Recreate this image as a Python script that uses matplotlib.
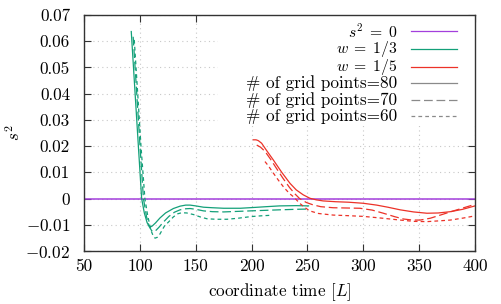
import matplotlib
matplotlib.use("Agg")
import matplotlib.pyplot as plt
from matplotlib.lines import Line2D
from matplotlib.patches import Rectangle
from matplotlib.ticker import FixedLocator, FixedFormatter

plt.rcParams['font.family'] = 'serif'
plt.rcParams['font.serif'] = ['cmr10']
plt.rcParams['mathtext.fontset'] = 'cm'
plt.rcParams['axes.unicode_minus'] = False
plt.rcParams['font.size'] = 12.3

# ---- data ----
# w = 1/3 (green)
g80_t = [92.3, 95, 98, 101.6, 104, 106.5, 108, 109.5, 111, 114, 118, 123, 130, 136, 141, 145, 150, 157, 165, 175, 190, 202, 213, 225, 240, 251]
g80_y = [0.0637, 0.0452, 0.0246, 0.0, -0.0055, -0.0092, -0.0104, -0.0108, -0.0105, -0.0093, -0.0074, -0.0055, -0.0038, -0.0029, -0.0025, -0.0025, -0.0028, -0.0033, -0.0035, -0.0037, -0.0037, -0.0034, -0.0031, -0.0028, -0.0027, -0.0028]
g70_t = [94, 97, 100, 103.2, 106, 108.5, 110.5, 112, 114, 117, 121, 126, 131, 136, 141, 145, 150, 157, 165, 175, 187, 199, 212, 225, 240, 251]
g70_y = [0.0617, 0.0415, 0.0210, 0.0, -0.0070, -0.0108, -0.0122, -0.0126, -0.0123, -0.0110, -0.0090, -0.0068, -0.0052, -0.0043, -0.0039, -0.0038, -0.0041, -0.0047, -0.0050, -0.0051, -0.0049, -0.0047, -0.0045, -0.0043, -0.0041, -0.0040]
g60_t = [95, 98, 101, 104.5, 107, 110, 112, 113.6, 115.5, 118, 122, 126, 130, 134, 137.5, 142, 148, 154, 160, 168, 178, 188, 199, 208, 216.5]
g60_y = [0.0605, 0.0405, 0.0200, 0.0, -0.0065, -0.0122, -0.0143, -0.0151, -0.0148, -0.0135, -0.0105, -0.0088, -0.0070, -0.0058, -0.0054, -0.0055, -0.0061, -0.0070, -0.0077, -0.0079, -0.0079, -0.0075, -0.0069, -0.0066, -0.0064]

# w = 1/5 (red)
r80_t = [201.6, 204, 206, 209, 213, 219.5, 227, 234.4, 240, 246.3, 252.3, 258, 264, 275, 287, 300, 312, 322, 333, 345, 357, 367, 378, 389, 400]
r80_y = [0.0224, 0.0224, 0.0221, 0.0211, 0.0186, 0.0147, 0.0100, 0.0058, 0.0033, 0.0014, 0.0001, -0.0005, -0.0009, -0.0012, -0.0014, -0.0018, -0.0025, -0.0033, -0.0043, -0.0051, -0.0056, -0.0055, -0.0050, -0.0041, -0.0028]
r70_t = [204.6, 208, 212, 217, 222, 228, 234, 239, 243, 249, 255, 262, 273, 285, 297, 308, 318, 328, 336, 344, 351, 360, 369, 380, 390, 400]
r70_y = [0.0204, 0.0196, 0.0180, 0.0150, 0.0117, 0.0078, 0.0042, 0.0017, 0.0, -0.0015, -0.0024, -0.0031, -0.0035, -0.0036, -0.0037, -0.0044, -0.0056, -0.0069, -0.0078, -0.0082, -0.0082, -0.0075, -0.0063, -0.0048, -0.0035, -0.0022]
r60_t = [212, 215, 219, 224, 229, 234, 238, 243, 248, 252, 260, 273, 285, 300, 315, 333, 345, 357, 368, 378, 390, 400]
r60_y = [0.0141, 0.0125, 0.0100, 0.0070, 0.0042, 0.0019, 0.0005, -0.0018, -0.0035, -0.0047, -0.0057, -0.0063, -0.0065, -0.0068, -0.0074, -0.0082, -0.0087, -0.0088, -0.0085, -0.0082, -0.0074, -0.0066]

zero_t = [50, 400]
zero_y = [0.0, 0.0]

x_ticks = [50, 100, 150, 200, 250, 300, 350, 400]
y_ticks = [-0.02, -0.01, 0.0, 0.01, 0.02, 0.03, 0.04, 0.05, 0.06, 0.07]
y_labels = ['$-0.02$', '$-0.01$', '0', '0.01', '0.02', '0.03', '0.04', '0.05', '0.06', '0.07']
x_labels = ['50', '100', '150', '200', '250', '300', '350', '400']

legend_labels = [r'$s^2\;=\;0$', r'$w\;=\;1/3$', r'$w\;=\;1/5$',
                 '# of grid points=80', '# of grid points=70', '# of grid points=60']

# ---- style ----
c_purple = '#a33fdc'
c_green = '#13a079'
c_red = '#ec3228'
c_grey = '#8a8a8a'
ls80 = '-'
ls70 = (0, (7, 3))
ls60 = (0, (3, 2.5))
lw = 0.9

fig = plt.figure(figsize=(5.02, 3.04), dpi=100)
ax = fig.add_axes([84/502, 53/304, 391/502, 236/304])

ax.plot(zero_t, zero_y, color=c_purple, lw=1.1, zorder=2)
ax.plot(g80_t, g80_y, color=c_green, lw=lw, ls=ls80, zorder=2)
ax.plot(g70_t, g70_y, color=c_green, lw=lw, ls=ls70, zorder=2)
ax.plot(g60_t, g60_y, color=c_green, lw=lw, ls=ls60, zorder=2)
ax.plot(r80_t, r80_y, color=c_red, lw=lw, ls=ls80, zorder=2)
ax.plot(r70_t, r70_y, color=c_red, lw=lw, ls=ls70, zorder=2)
ax.plot(r60_t, r60_y, color=c_red, lw=lw, ls=ls60, zorder=2)

ax.set_xlim(50, 400)
ax.set_ylim(-0.02, 0.07)
ax.xaxis.set_major_locator(FixedLocator(x_ticks))
ax.xaxis.set_major_formatter(FixedFormatter(x_labels))
ax.yaxis.set_major_locator(FixedLocator(y_ticks))
ax.yaxis.set_major_formatter(FixedFormatter(y_labels))
ax.tick_params(direction='in', top=True, right=True, length=5, width=0.8, color='#333333')
ax.tick_params(axis='y', pad=10)
ax.tick_params(axis='x', pad=5.5)
for s in ax.spines.values():
    s.set_color('#333333')
    s.set_linewidth(1.0)

ax.set_axisbelow(True)
ax.grid(True, color='#c8c8c8', lw=0.8, ls=(0, (1, 3)))

ax.set_xlabel('coordinate time [$L$]', labelpad=5)
ax.set_ylabel('$s^2$')
ax.yaxis.set_label_coords(-0.155, 0.5)

# legend box (opaque) drawn manually
ax.add_patch(Rectangle((0.343, 0.53), 0.657, 0.47, transform=ax.transAxes,
                       facecolor='white', edgecolor='none', zorder=1))
rows_y = [0.932, 0.858, 0.779, 0.711, 0.640, 0.570]
leg_sizes = [11.3, 11.3, 11.3, 12.3, 12.3, 12.3]
leg_colors = [c_purple, c_green, c_red, c_grey, c_grey, c_grey]
leg_styles = [ls80, ls80, ls80, ls80, ls70, ls60]
for yy, lab, fs, col, st in zip(rows_y, legend_labels, leg_sizes, leg_colors, leg_styles):
    ax.text(0.8005, yy, lab, transform=ax.transAxes, ha='right', va='center',
            fontsize=fs, zorder=3)
    ax.add_line(Line2D([0.836, 0.954], [yy, yy], transform=ax.transAxes,
                       color=col, lw=lw, ls=st, zorder=3))

fig.savefig('out.png', dpi=100)
